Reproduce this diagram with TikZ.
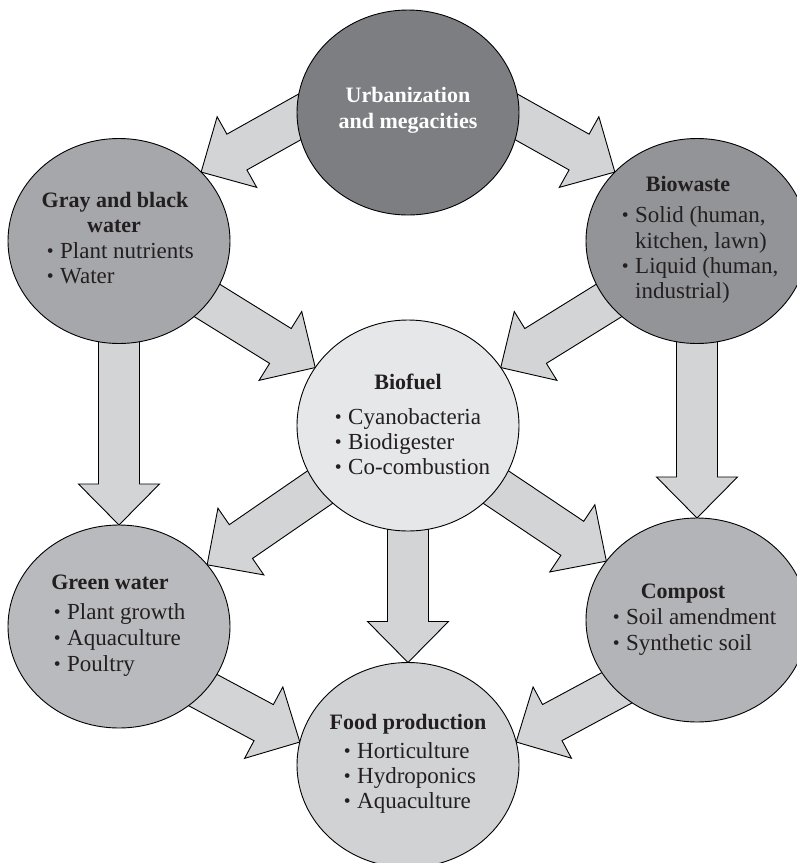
\documentclass[tikz,border=0pt]{standalone}
\usepackage{fontspec}
\setmainfont{Liberation Serif}
\usetikzlibrary{shapes.geometric,calc}
\pgfdeclarelayer{bg}
\pgfsetlayers{bg,main}
\definecolor{ctop}{HTML}{7D7E82}
\definecolor{cgray}{HTML}{A6A7AB}
\definecolor{cbio}{HTML}{939498}
\definecolor{cfuel}{HTML}{E6E7E8}
\definecolor{cgreen}{HTML}{B9BABD}
\definecolor{ccomp}{HTML}{B3B4B7}
\definecolor{cfood}{HTML}{D1D2D4}
\definecolor{carrow}{HTML}{D3D4D6}
\definecolor{ctext}{HTML}{231F20}
\tikzset{
  blob/.style={ellipse, draw=black, line width=0.9pt, inner sep=0pt, outer sep=0pt,
               minimum width=222pt, minimum height=205pt},
  blockarr/.style={draw=black, fill=carrow, line width=0.9pt, line join=miter},
  ttl/.style={font=\fontsize{22}{26}\selectfont\bfseries, text=ctext, inner sep=0pt, anchor=base},
  itm/.style={font=\fontsize{23}{26}\selectfont, text=ctext, inner sep=0pt, anchor=base west},
}
\newcommand{\blt}{\llap{\raisebox{0.3pt}{\scalebox{0.85}{\textbullet}}\hspace{6.5pt}}}
% block arrow from #1 (tail, extended under source) to #2 (tip)
\newcommand{\blockarrow}[2]{%
  \path ($(#1)!-45pt!(#2)$) coordinate (ba-s)
        ($(#2)!41pt!(#1)$) coordinate (ba-h);
  \draw[blockarr] ($(ba-s)!20.5pt!90:(#2)$) -- ($(ba-h)!20.5pt!90:(#2)$)
     -- ($(ba-h)!40.5pt!90:(#2)$) -- (#2) -- ($(ba-h)!40.5pt!-90:(#2)$)
     -- ($(ba-h)!20.5pt!-90:(#2)$) -- ($(ba-s)!20.5pt!-90:(#2)$) -- cycle;
}
\begin{document}
\begin{tikzpicture}[x=1pt,y=1pt]
\useasboundingbox (0,0) rectangle (797,-863);
% circles
\node[blob, fill=ctop]   (top)   at (408,-112.5) {};
\node[blob, fill=cgray]  (gray)  at (119,-241) {};
\node[blob, fill=cbio]   (bio)   at (697,-241) {};
\node[blob, fill=cfuel, minimum height=211pt] (fuel) at (408,-425.5) {};
\node[blob, fill=cgreen, minimum height=203pt] (green) at (119,-626.5) {};
\node[blob, fill=ccomp, minimum height=204pt] (comp) at (697,-620) {};
\node[blob, fill=cfood]  (food)  at (408,-765) {};
% arrows
\begin{pgfonlayer}{bg}
  \blockarrow{top.183}{gray.40}
  \blockarrow{top.-3}{bio.140}
  \blockarrow{gray.-34}{fuel.148}
  \blockarrow{bio.-146}{fuel.32}
  \blockarrow{gray.south}{green.north}
  \blockarrow{bio.south}{comp.north}
  \blockarrow{fuel.-145}{green.35}
  \blockarrow{fuel.-35}{comp.147}
  \blockarrow{fuel.south}{food.north}
  \blockarrow{green.-37}{food.168}
  \blockarrow{comp.-140}{food.12}
\end{pgfonlayer}
% texts
\node[ttl, text=white] (t1) at (408,-102) {Urbanization};
\node[ttl, text=white] (t2) at (408,-128) {and megacities};

\node[ttl] (g1) at (115,-207) {Gray and black};
\node[ttl] (g2) at (114,-232) {water};
\node[itm] (g3) at (60,-258) {\blt Plant nutrients};
\node[itm] (g4) at (60,-283) {\blt Water};

\node[ttl] (b1) at (688,-191) {Biowaste};
\node[itm] (b2) at (635,-222) {\blt Solid (human,};
\node[itm] (b3) at (635,-248) {kitchen, lawn)};
\node[itm] (b4) at (635,-273) {\blt Liquid (human,};
\node[itm] (b5) at (635,-298) {industrial)};

\node[ttl] (f1) at (408,-389) {Biofuel};
\node[itm] (f2) at (348,-424) {\blt Cyanobacteria};
\node[itm] (f3) at (348,-449) {\blt Biodigester};
\node[itm] (f4) at (348,-474) {\blt Co-combustion};

\node[ttl] (w1) at (110,-589) {Green water};
\node[itm] (w2) at (67,-619) {\blt Plant growth};
\node[itm] (w3) at (67,-645) {\blt Aquaculture};
\node[itm] (w4) at (67,-671) {\blt Poultry};

\node[ttl] (c1) at (683,-598) {Compost};
\node[itm] (c2) at (626,-624) {\blt Soil amendment};
\node[itm] (c3) at (626,-650) {\blt Synthetic soil};

\node[ttl] (p1) at (408,-729) {Food production};
\node[itm] (p2) at (357,-758) {\blt Horticulture};
\node[itm] (p3) at (357,-783) {\blt Hydroponics};
\node[itm] (p4) at (357,-808) {\blt Aquaculture};
\end{tikzpicture}
\end{document}
